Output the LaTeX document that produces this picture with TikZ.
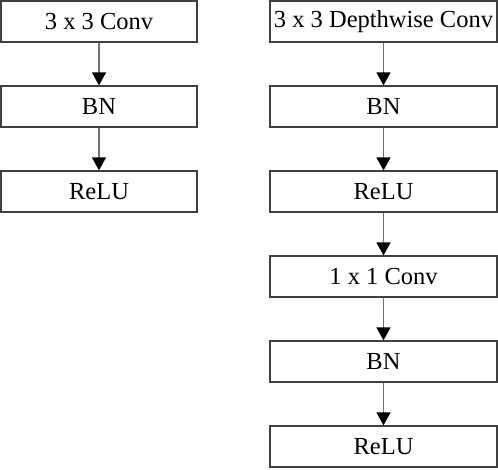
\documentclass[tikz,border=0pt]{standalone}
\usepackage{fontspec}
\setmainfont{Liberation Serif}
\usetikzlibrary{positioning, arrows.meta}

\begin{document}
\begin{tikzpicture}[x=1pt, y=-1pt, node distance=85pt, on grid,
    layer/.style={draw=black!75, line width=1.3pt, minimum height=41pt, inner sep=0pt,
      font=\fontsize{24.5}{28}\selectfont},
    flow/.style={draw=black!55, line width=1.6pt, -{Triangle[width=14pt,length=13pt,black]}}]
        \useasboundingbox (0,0) rectangle (498,469);

        % standard convolution
        \node[layer, minimum width=196pt] (c0) at (99,21.5) {3 x 3 Conv};
        \node[layer, minimum width=196pt] (c1) [below=of c0] {BN};
        \node[layer, minimum width=196pt] (c2) [below=of c1] {ReLU};

        % depthwise separable convolution
        \node[layer, minimum width=227pt] (d0) at (383.5,21.5) {3 x 3 Depthwise Conv};
        \node[layer, minimum width=227pt] (d1) [below=of d0] {BN};
        \node[layer, minimum width=227pt] (d2) [below=of d1] {ReLU};
        \node[layer, minimum width=227pt] (d3) [below=of d2] {1 x 1 Conv};
        \node[layer, minimum width=227pt] (d4) [below=of d3] {BN};
        \node[layer, minimum width=227pt] (d5) [below=of d4] {ReLU};

        \foreach \a/\b in {c0/c1, c1/c2, d0/d1, d1/d2, d2/d3, d3/d4, d4/d5}
          \draw[flow] (\a) -- (\b);
      \end{tikzpicture}
\end{document}
